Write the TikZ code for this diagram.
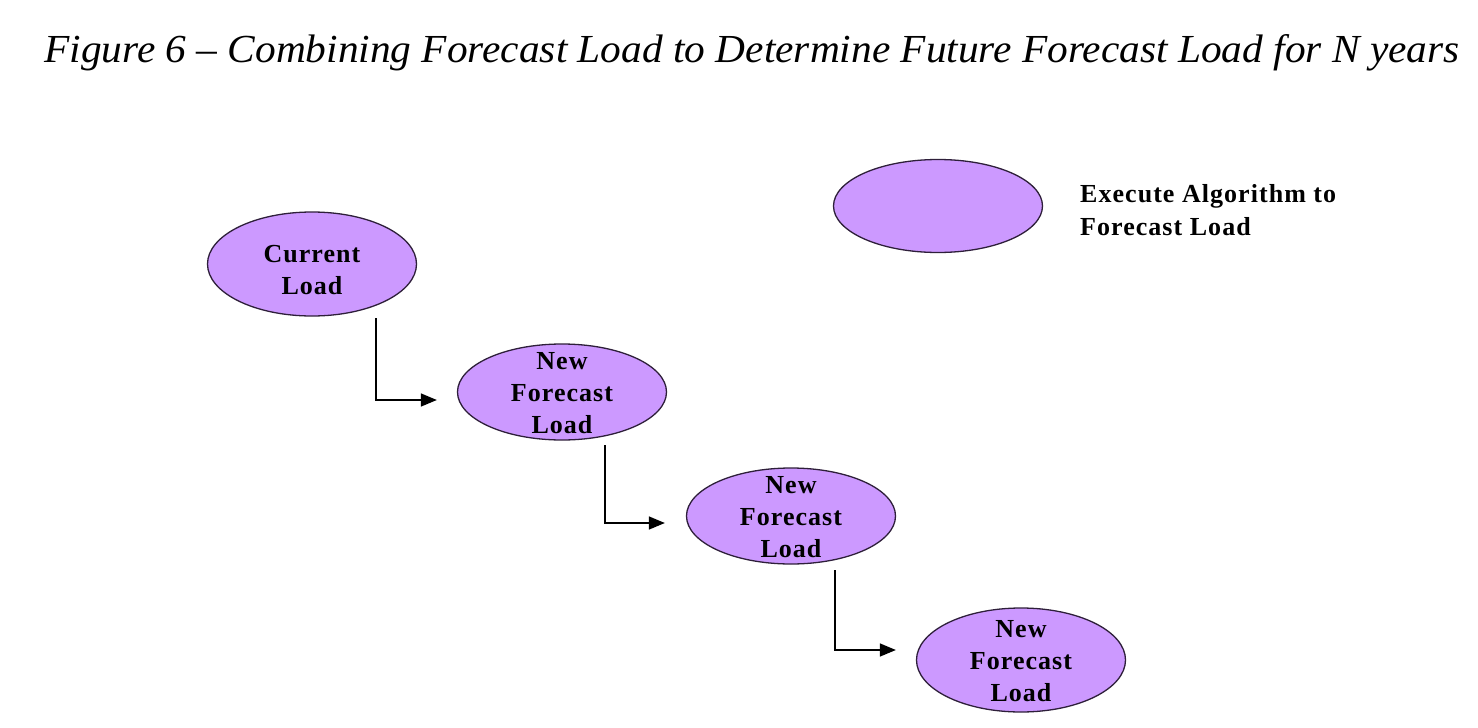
\documentclass[tikz,border=0pt]{standalone}
\usepackage{fontspec}
\setmainfont{Liberation Serif}
\newfontfamily\boxfont[LetterSpace=4]{Liberation Serif}
\usetikzlibrary{shapes.geometric,arrows.meta,calc}
\definecolor{lilac}{HTML}{CC99FF}
\definecolor{rim}{HTML}{2E1F3A}
\tikzset{
  blob/.style={ellipse, draw=rim, line width=1.3pt, fill=lilac, inner sep=0pt,
    minimum width=209pt, minimum height=#1},
  blob/.default=100pt,
  words/.style={align=center, inner sep=0pt,
    font=\boxfont\fontsize{26}{32}\selectfont\bfseries},
  link/.style={draw=black, line width=1.5pt, -{Triangle[length=16pt,width=13pt]}},
  lbl/.style={font=\boxfont\fontsize{26}{33}\selectfont\bfseries, align=left, inner sep=0pt}
}
\begin{document}
\begin{tikzpicture}[x=1pt,y=-1pt]
\useasboundingbox (0,0) rectangle (1478,728);
\node[anchor=base, inner sep=0pt] (title) at (752,62)
  {\resizebox{1415pt}{28pt}{\itshape Figure 6 -- Combining Forecast Load to Determine Future Forecast Load for N years}};
\node[blob=93pt] (key) at (938,206) {};
\node[lbl, anchor=west] (keytext) at (1080,210) {Execute Algorithm to\\Forecast Load};
\node[blob=104pt] (cur) at (312,264) {};
\node[words] (curtext) at ($(cur.center)+(0,6)$) {Current\\Load};
\node[blob=96pt] (n1) at (562,392) {};
\node[words] (n1text) at ($(n1.center)+(0,1)$) {New\\Forecast\\Load};
\node[blob=96pt] (n2) at (791,516) {};
\node[words] (n2text) at ($(n2.center)+(0,1)$) {New\\Forecast\\Load};
\node[blob=104pt] (n3) at (1021,660) {};
\node[words] (n3text) at ($(n3.center)+(0,1)$) {New\\Forecast\\Load};
\coordinate (s1) at ($(cur.center)+(64,54)$);
\coordinate (e1) at ($(n1.west)+(-20,8)$);
\coordinate (s2) at ($(n1.center)+(43,53)$);
\coordinate (e2) at ($(n2.west)+(-21,7)$);
\coordinate (s3) at ($(n2.center)+(44,54)$);
\coordinate (e3) at ($(n3.west)+(-20,-10)$);
\draw[link] (s1) |- (e1);
\draw[link] (s2) |- (e2);
\draw[link] (s3) |- (e3);
\end{tikzpicture}
\end{document}
